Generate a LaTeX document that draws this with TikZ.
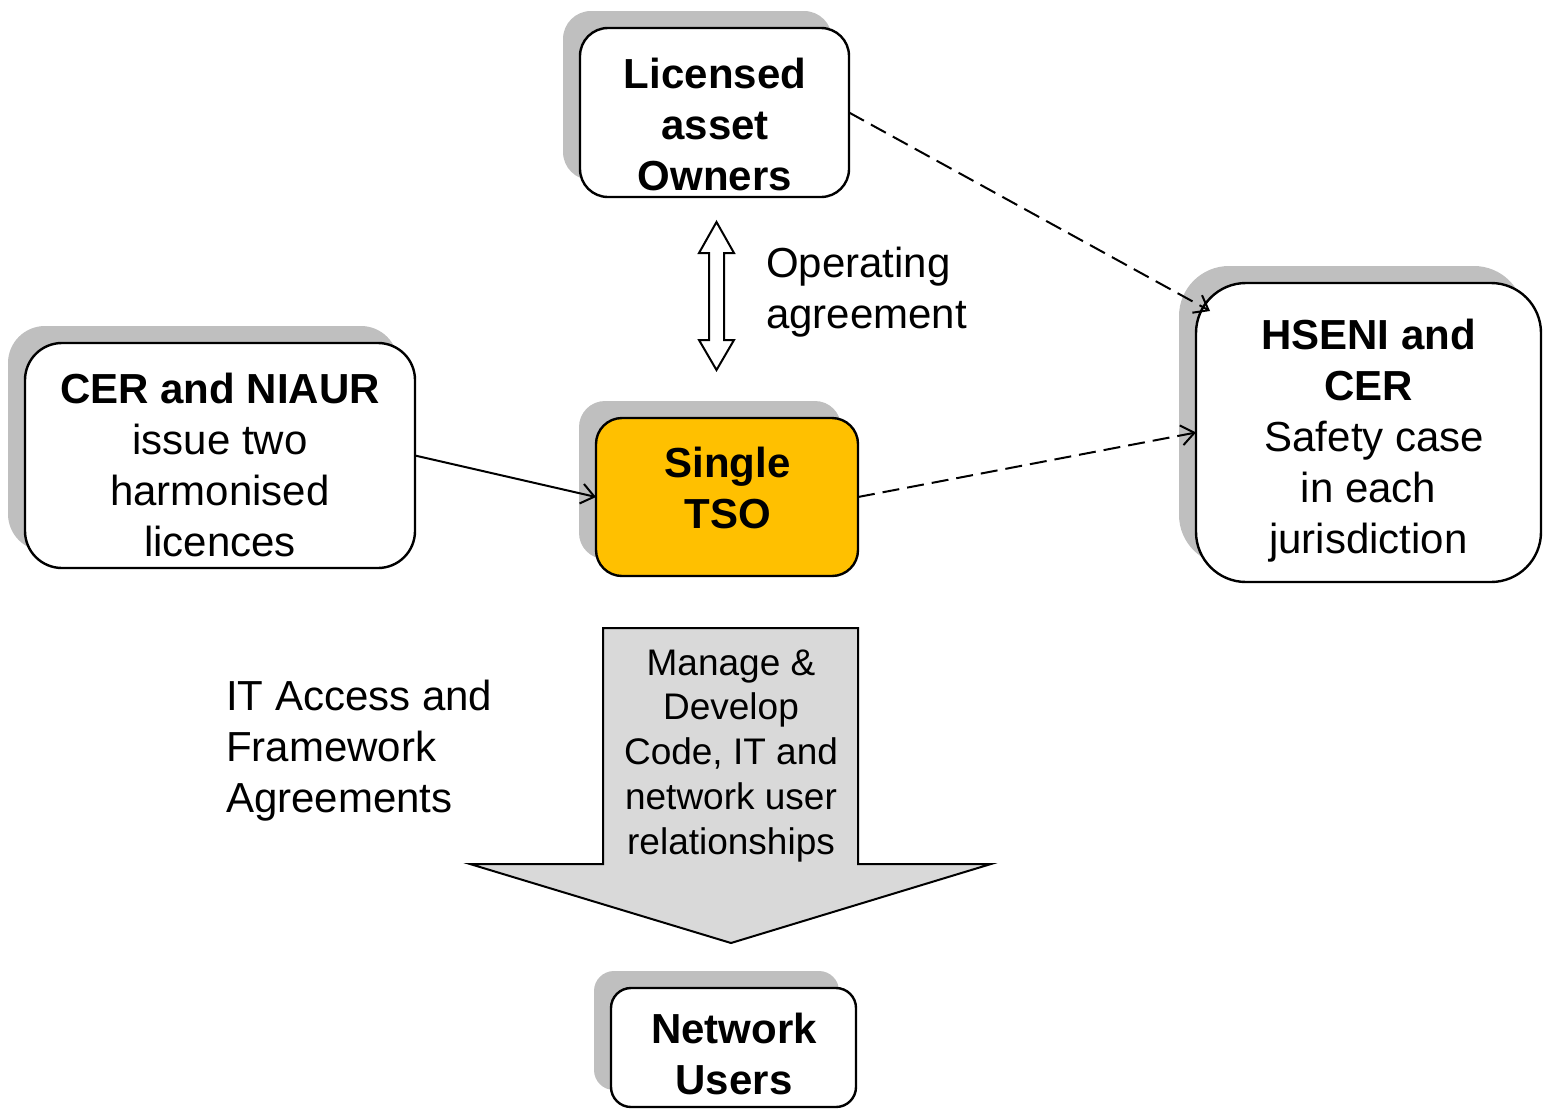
\documentclass[tikz,border=0pt]{standalone}
\usepackage{fontspec}
\setmainfont{Liberation Sans}
\usetikzlibrary{shadows,arrows.meta,calc}
\definecolor{shadowgray}{HTML}{BFBFBF}
\definecolor{tsoorange}{HTML}{FFC000}
\definecolor{blockgray}{HTML}{D9D9D9}
\begin{document}
\begin{tikzpicture}[x=1pt,y=-1pt,
  box/.style={draw=black, line width=2.4pt, fill=white, inner sep=0pt, outer sep=0pt,
    drop shadow={shadow xshift=-17pt, shadow yshift=17pt, fill=shadowgray, opacity=1}},
  txt/.style={anchor=north, inner sep=0pt, align=center, font=\fontsize{42}{51}\selectfont},
  btxt/.style={txt, font=\fontsize{42}{51}\selectfont\bfseries},
  ltxt/.style={anchor=north west, inner sep=0pt, align=left, font=\fontsize{42}{51}\selectfont},
  stxt/.style={anchor=north, inner sep=0pt, align=center, font=\fontsize{37}{44.7}\selectfont},
  conn/.style={line width=2pt, -{Straight Barb[length=13pt,width=20pt,line width=2pt]}},
  dashline/.style={dash pattern=on 17pt off 8pt},
  blockarrow/.style={draw=black, line width=2pt, fill=blockgray, line join=miter},
  dblarrow/.style={draw=black, line width=2pt, fill=white, line join=miter}
]
\useasboundingbox (0,0) rectangle (1546,1111);

% boxes
\node[box, rounded corners=28pt, minimum width=269pt, minimum height=169pt] (lic) at (714.5,112.5) {};
\node[box, rounded corners=37pt, minimum width=390pt, minimum height=225pt] (cer) at (220,455.5) {};
\node[box, rounded corners=26pt, fill=tsoorange, minimum width=262pt, minimum height=158pt] (tso) at (727,497) {};
\node[box, rounded corners=50pt, minimum width=345pt, minimum height=299pt] (hseni) at (1368.5,432.5) {};
\node[box, rounded corners=20pt, minimum width=245pt, minimum height=119pt] (net) at (733.5,1047.5) {};

% texts in boxes
\node[btxt] (lictxt) at (715,52.3) {\strut Licensed\\asset\\Owners};
\node[txt] (certxt) at (220,367.3) {\strut{\bfseries CER and NIAUR}\\issue two\\harmonised\\licences};
\node[btxt] (tsotxt) at (727.5,441.3) {\strut Single\\TSO};
\node[txt] (hstxt) at (1368.5,313.6) {\strut{\bfseries HSENI and}\\{\bfseries CER}\\\ Safety case\\in each\\jurisdiction};
\node[btxt] (nettxt) at (734,1007.3) {\strut Network\\Users};

% double arrow (operating agreement)
\coordinate (opTop) at (716.5,222);
\coordinate (opBot) at (716.5,370);
\draw[dblarrow] (opTop) -- ($(opTop)+(17.5,31)$) -- ($(opTop)+(7.5,31)$) -- ($(opBot)+(7.5,-30)$)
  -- ($(opBot)+(17.5,-30)$) -- (opBot) -- ($(opBot)+(-17.5,-30)$) -- ($(opBot)+(-7.5,-30)$)
  -- ($(opTop)+(-7.5,31)$) -- ($(opTop)+(-17.5,31)$) -- cycle;
\node[ltxt] (optxt) at (766,241.3) {\strut Operating\\agreement};

% big block arrow
\coordinate (bigTip) at (731,943);
\draw[blockarrow] (603,628) -- (858,628) -- (858,864) -- (991,864) -- (bigTip) -- (470,864) -- (603,864) -- cycle;
\node[stxt] (mantxt) at (731,643.7) {\strut Manage \&\\Develop\\Code, IT and\\network user\\relationships};

\node[ltxt] (ittxt) at (226,674.3) {\strut IT Access and\\Framework\\Agreements};

% connectors
\coordinate (hsTip) at (1210,311);
\draw[conn] (cer.east) -- (tso.west);
\draw[conn, dashline] (tso.east) -- (hseni.west);
\draw[conn, dashline] (lic.east) -- (hsTip);
\end{tikzpicture}
\end{document}
